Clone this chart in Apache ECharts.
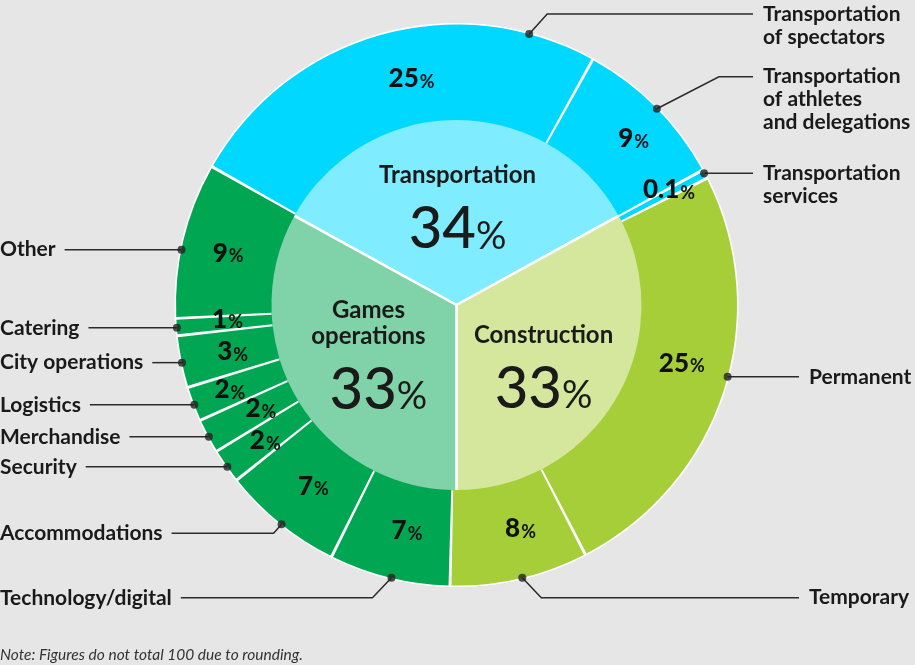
<!DOCTYPE html>
<html>
<head>
<meta charset="utf-8">
<script src="https://cdn.jsdelivr.net/npm/echarts@6/dist/echarts.min.js"></script>
<style>
html, body { margin: 0; padding: 0; background: #e6e6e6; }
#chart { width: 915px; height: 665px; }
</style>
</head>
<body>
<div id="chart"></div>
<script>
// ---------------- DATA ----------------
const innerNames = ['Transportation', 'Construction', 'Games\noperations'];
const innerValues = [34, 33, 33];
const outerNames = [
  'Transportation\nof spectators',
  'Transportation\nof athletes\nand delegations',
  'Transportation\nservices',
  'Permanent',
  'Temporary',
  'Technology/digital',
  'Accommodations',
  'Security',
  'Merchandise',
  'Logistics',
  'City operations',
  'Catering',
  'Other'
];
const outerValues = [25, 9, 0.1, 25, 8, 7, 7, 2, 2, 2, 3, 1, 9];
const outerGroup = [0, 0, 0, 1, 1, 2, 2, 2, 2, 2, 2, 2, 2];
const noteText = 'Note: Figures do not total 100 due to rounding.';

// ---------------- LAYOUT / STYLE ----------------
const CX = 456.5, CY = 305, R_IN = 185, R_OUT = 280.5;
const OUTER_ROTATE = 0.7;
const INNER_COLORS = ['#80ecff', '#d4e79d', '#80d3a9'];
const OUTER_COLORS = ['#00d8ff', '#a6ce39', '#00a651'];
const FONT = 'Lato, "Open Sans", sans-serif';
const TEXT = '#1a1a1a';
const LABEL_SIZE = 21, LABEL_LH = 23;
const GROUP_COLUMN_X = [763, 809, 0];
const GROUP_SIDE = ['right', 'right', 'left'];
// leader-line shape per outer item (anchor = fraction along slice, dx/dy = elbow)
const LEADERS = {
  0: { anchor: 0.84, dx: 18, dy: -20 },
  1: { dx: 62, dy: -32 },
  3: { anchor: 0.475 },
  4: { dx: 19, dy: 20 },
  5: { dx: -19, dy: 20 },
  6: { dx: -8, dy: 9 },
  12: { anchor: 0.44 }
};
const INNER_LABEL_OFFSET = [[1, 2], [4, 16], [-5, 4]];
const INNER_NUM_SHIFT = [0, 0, 20];
const OUTER_LABEL_OFFSET = [[19, 3], [10, 2], [4, -3], [1, -12], [11, -4], [7, -1], [5, 0], [2, 3], [13, -4], [-6, 4], [7, 1], [6, -2], [1, 5]];

// ---------------- GEOMETRY HELPERS ----------------
const innerTotal = innerValues.reduce((a, b) => a + b, 0);
const outerTotal = outerValues.reduce((a, b) => a + b, 0);
const START = 90 + innerValues[0] / innerTotal * 180;
const OUTER_START = START - OUTER_ROTATE;
const cum = [];
outerValues.reduce((acc, v) => { cum.push(acc); return acc + v; }, 0);

function anchorValue(i) {
  const L = LEADERS[i] || {};
  const f = L.anchor != null ? L.anchor : 0.5;
  return cum[i] + f * outerValues[i];
}
function anchorPoint(i) {
  const deg = OUTER_START - anchorValue(i) / outerTotal * 360;
  const rad = deg * Math.PI / 180;
  return [CX + R_OUT * Math.cos(rad), CY - R_OUT * Math.sin(rad)];
}
const mctx = document.createElement('canvas').getContext('2d');
function textWidth(str) {
  mctx.font = 'bold ' + LABEL_SIZE + 'px ' + FONT;
  return Math.max.apply(null, str.split('\n').map(s => mctx.measureText(s).width));
}
function leaderLayout(p) {
  const i = p.dataIndex;
  const L = LEADERS[i] || {};
  const pt = anchorPoint(i);
  const ex = pt[0] + (L.dx || 0), ey = pt[1] + (L.dy || 0);
  const g = outerGroup[i];
  const x = GROUP_COLUMN_X[g];
  const endX = GROUP_SIDE[g] === 'left' ? x + textWidth(outerNames[i]) + 9 : x - 10;
  return {
    x: x,
    y: ey - LABEL_LH / 2,
    align: 'left',
    verticalAlign: 'top',
    labelLinePoints: [[pt[0], pt[1]], [ex, ey], [endX, ey]]
  };
}
function innerRich(shift) {
  return {
    name: { fontFamily: FONT, fontSize: 24, fontWeight: 'bold', color: TEXT, lineHeight: 26, align: 'center' },
    num: { fontFamily: FONT, fontSize: 58, fontWeight: 500, color: TEXT, lineHeight: 70, verticalAlign: 'bottom', padding: [0, 0, 0, shift] },
    pct: { fontFamily: FONT, fontSize: 38, fontWeight: 'normal', color: TEXT, lineHeight: 70, verticalAlign: 'bottom', padding: [0, 0, 3, 0] }
  };
}

// ---------------- CHART ----------------
const chart = echarts.init(document.getElementById('chart'), null, { renderer: 'canvas' });

const option = {
  backgroundColor: '#e6e6e6',
  animation: false,
  title: {
    text: noteText,
    left: 0,
    top: 646,
    padding: 0,
    textStyle: { fontFamily: FONT, fontStyle: 'italic', fontWeight: 'normal', fontSize: 15.5, color: '#333', lineHeight: 18 }
  },
  polar: { center: [CX, CY], radius: R_OUT },
  angleAxis: {
    type: 'value', min: 0, max: outerTotal, startAngle: OUTER_START, clockwise: true, show: false,
    axisLine: { show: false }, axisTick: { show: false }, axisLabel: { show: false }, splitLine: { show: false }
  },
  radiusAxis: {
    type: 'value', min: 0, max: 1, show: false,
    axisLine: { show: false }, axisTick: { show: false }, axisLabel: { show: false }, splitLine: { show: false }
  },
  series: [
    {
      type: 'pie', name: 'backdrop', silent: true, z: 1,
      center: [CX, CY], radius: [0, R_OUT + 1.6],
      data: [{ value: 1, itemStyle: { color: '#ffffff' } }],
      label: { show: false }, labelLine: { show: false }, emphasis: { disabled: true }
    },
    {
      type: 'pie', name: 'Category', silent: true, z: 2,
      center: [CX, CY], radius: [0, R_IN + 2],
      startAngle: START, clockwise: true,
      itemStyle: { borderColor: '#ffffff', borderWidth: 2.5 },
      emphasis: { disabled: true },
      labelLine: { show: false },
      labelLayout: { hideOverlap: false },
      label: {
        show: true, position: 'inside',
        formatter: p => p.name.split('\n').map(s => '{name|' + s + '}').join('\n') + '\n{num|' + p.value + '}{pct|%}',
        rich: innerRich(0)
      },
      data: innerNames.map((n, i) => ({
        name: n, value: innerValues[i],
        itemStyle: { color: INNER_COLORS[i] },
        label: { offset: INNER_LABEL_OFFSET[i], rich: innerRich(INNER_NUM_SHIFT[i]) }
      }))
    },
    {
      type: 'pie', name: 'Subcategory', silent: true, z: 3,
      center: [CX, CY], radius: [R_IN, R_OUT],
      startAngle: OUTER_START, clockwise: true,
      padAngle: 0.6, minAngle: 1.3,
      avoidLabelOverlap: false,
      emphasis: { disabled: true },
      labelLine: { show: false },
      labelLayout: { hideOverlap: false },
      label: {
        show: true, position: 'inside',
        formatter: p => '{n|' + p.value + '}{p|%}',
        rich: {
          n: { fontFamily: FONT, fontSize: 26, fontWeight: 900, color: '#111', lineHeight: 22, verticalAlign: 'bottom' },
          p: { fontFamily: FONT, fontSize: 18, fontWeight: 'bold', color: '#111', lineHeight: 22, verticalAlign: 'bottom', padding: [0, 0, 1, 1] }
        }
      },
      data: outerNames.map((n, i) => ({
        name: n, value: outerValues[i],
        itemStyle: { color: OUTER_COLORS[outerGroup[i]] },
        label: { offset: OUTER_LABEL_OFFSET[i] }
      }))
    },
    {
      type: 'pie', name: 'Labels', silent: true, z: 4,
      center: [CX, CY], radius: [R_IN, R_OUT],
      startAngle: OUTER_START, clockwise: true,
      avoidLabelOverlap: false,
      emphasis: { disabled: true },
      itemStyle: { color: 'rgba(0,0,0,0)', borderWidth: 0 },
      label: {
        show: true, position: 'outside', formatter: '{b}',
        width: 240, overflow: 'none',
        fontFamily: FONT, fontSize: LABEL_SIZE, fontWeight: 'bold', color: TEXT, lineHeight: LABEL_LH
      },
      labelLine: { show: true, length: 10, length2: 10, smooth: false, lineStyle: { color: '#2b2b2b', width: 1.5 } },
      labelLayout: leaderLayout,
      data: outerNames.map((n, i) => ({ name: n, value: outerValues[i] }))
    },
    {
      type: 'scatter', name: 'Anchors', coordinateSystem: 'polar', silent: true, z: 5,
      symbol: 'circle', symbolSize: 8,
      itemStyle: { color: '#222' },
      data: outerValues.map((v, i) => [1, anchorValue(i)])
    }
  ]
};
chart.setOption(option);
</script>
</body>
</html>
